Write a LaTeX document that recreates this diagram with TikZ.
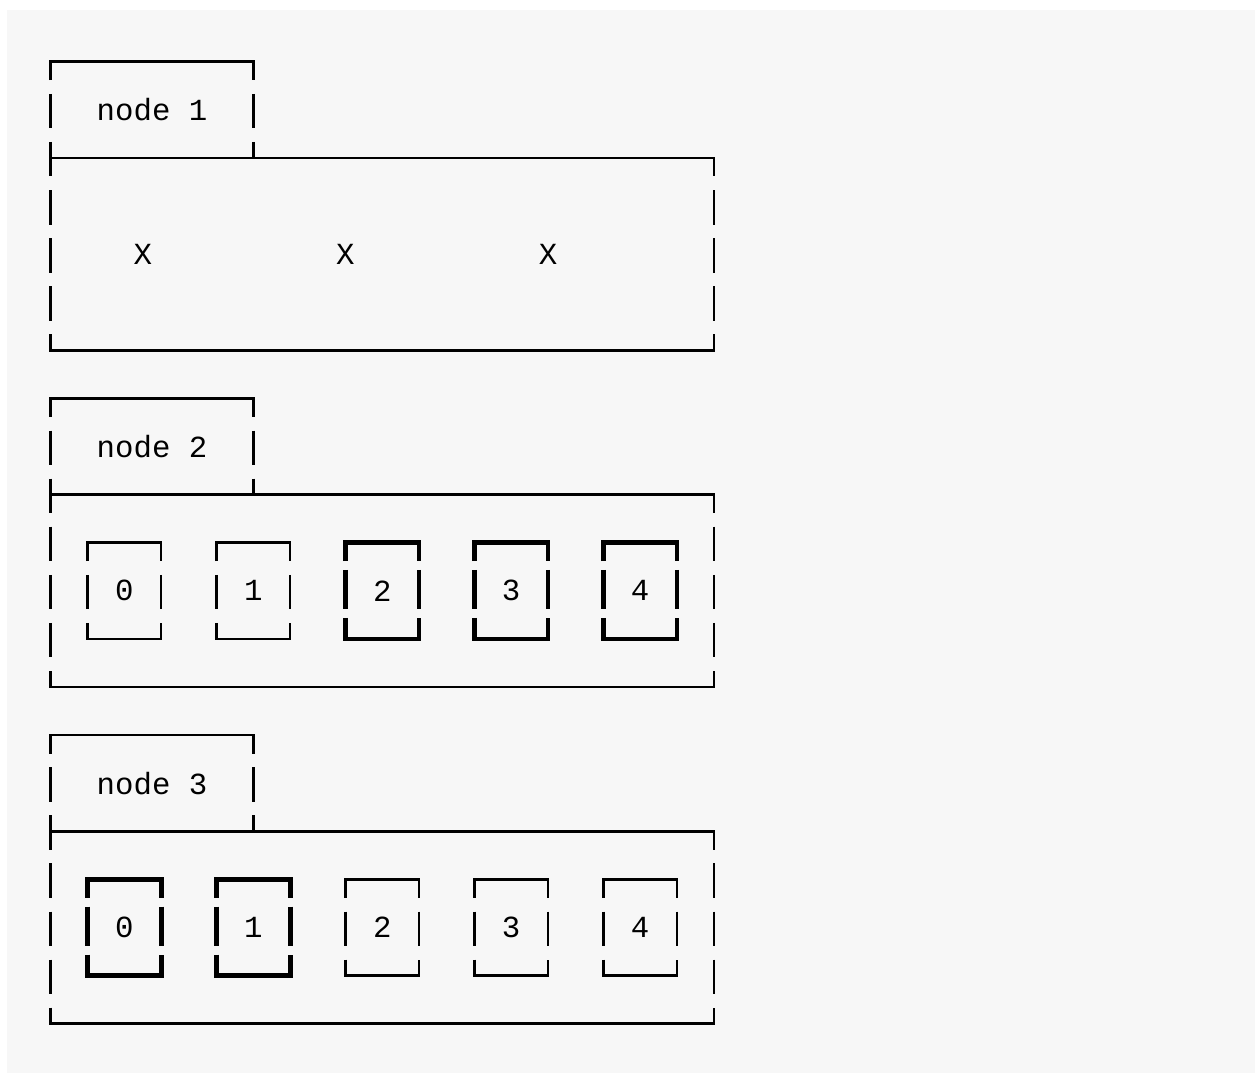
\documentclass[tikz,border=0pt]{standalone}
\usepackage{fontspec}
\setmonofont{Liberation Mono}
\definecolor{bgc}{HTML}{F7F7F7}
\def\lu{16}\def\ld{18.5}\def\hu{21}\def\hd{18.5}
% outer frame of one group: #1 base row
\newcommand\grpframe[1]{%
  \draw[light] ({cx(0)},{ry(#1)+\ld}) -- ({cx(0)},{ry(#1)}) -- ({cx(11)},{ry(#1)}) -- ({cx(11)},{ry(#1)+\ld});
  \draw[light] ({cx(0)},{ry(#1+1)-\lu}) -- ({cx(0)},{ry(#1+1)+\ld});
  \draw[light] ({cx(11)},{ry(#1+1)-\lu}) -- ({cx(11)},{ry(#1+1)+\ld});
  \draw[light] ({cx(0)},{ry(#1+2)-\lu}) -- ({cx(0)},{ry(#1+2)+\ld});
  \draw[light] ({cx(11)},{ry(#1+2)-\lu}) -- ({cx(11)},{ry(#1+2)});
  \draw[light] ({cx(0)},{ry(#1+2)}) -- ({cx(36)},{ry(#1+2)}) -- ({cx(36)},{ry(#1+2)+\ld});
  \foreach \rr in {3,4,5}{
    \draw[light] ({cx(0)},{ry(#1+\rr)-\lu}) -- ({cx(0)},{ry(#1+\rr)+\ld});
    \draw[light] ({cx(36)},{ry(#1+\rr)-\lu}) -- ({cx(36)},{ry(#1+\rr)+\ld});
  }
  \draw[light] ({cx(0)},{ry(#1+6)-\lu}) -- ({cx(0)},{ry(#1+6)}) -- ({cx(36)},{ry(#1+6)}) -- ({cx(36)},{ry(#1+6)-\lu});
}
% small box: #1 style, #2 up, #3 down, #4 top row, #5 left col
\newcommand\smallbox[5]{%
  \draw[#1] ({cx(#5)},{ry(#4)+#3}) -- ({cx(#5)},{ry(#4)}) -- ({cx(#5+4)},{ry(#4)}) -- ({cx(#5+4)},{ry(#4)+#3});
  \draw[#1] ({cx(#5)},{ry(#4+1)-#2}) -- ({cx(#5)},{ry(#4+1)+#3});
  \draw[#1] ({cx(#5+4)},{ry(#4+1)-#2}) -- ({cx(#5+4)},{ry(#4+1)+#3});
  \draw[#1] ({cx(#5)},{ry(#4+2)-#2}) -- ({cx(#5)},{ry(#4+2)}) -- ({cx(#5+4)},{ry(#4+2)}) -- ({cx(#5+4)},{ry(#4+2)-#2});
}
\begin{document}
\begin{tikzpicture}[x=1pt,y=-1pt,
  declare function={cx(\colx)=50.7+\colx*18.42; ry(\rowy)=61.7+\rowy*48.1;},
  light/.style={line width=2.5pt,black},
  heavy/.style={line width=4.7pt,black},
  txt/.style={font=\ttfamily\fontsize{30.7}{36}\selectfont, inner sep=0pt, text=black}]
\useasboundingbox (0,0) rectangle (1255,1073);
\fill[white] (0,0) rectangle (1255,1073);
\fill[bgc] (7,10) rectangle (1256,1074);

% group 1
\grpframe{0}
\node[txt] (label1) at ({cx(5.5)},{ry(1)}) {node 1};
\node[txt] (x1) at ({cx(5)},{ry(4)}) {X};
\node[txt] (x2) at ({cx(16)},{ry(4)}) {X};
\node[txt] (x3) at ({cx(27)},{ry(4)}) {X};

% group 2
\grpframe{7}
\node[txt] (label2) at ({cx(5.5)},{ry(8)}) {node 2};
\smallbox{light}{\lu}{\ld}{10}{2}
\smallbox{light}{\lu}{\ld}{10}{9}
\smallbox{heavy}{\hu}{\hd}{10}{16}
\smallbox{heavy}{\hu}{\hd}{10}{23}
\smallbox{heavy}{\hu}{\hd}{10}{30}
\node[txt] (b20) at ({cx(4)},{ry(11)}) {0};
\node[txt] (b21) at ({cx(11)},{ry(11)}) {1};
\node[txt] (b22) at ({cx(18)},{ry(11)}) {2};
\node[txt] (b23) at ({cx(25)},{ry(11)}) {3};
\node[txt] (b24) at ({cx(32)},{ry(11)}) {4};

% group 3
\grpframe{14}
\node[txt] (label3) at ({cx(5.5)},{ry(15)}) {node 3};
\smallbox{heavy}{\hu}{\hd}{17}{2}
\smallbox{heavy}{\hu}{\hd}{17}{9}
\smallbox{light}{\lu}{\ld}{17}{16}
\smallbox{light}{\lu}{\ld}{17}{23}
\smallbox{light}{\lu}{\ld}{17}{30}
\node[txt] (b30) at ({cx(4)},{ry(18)}) {0};
\node[txt] (b31) at ({cx(11)},{ry(18)}) {1};
\node[txt] (b32) at ({cx(18)},{ry(18)}) {2};
\node[txt] (b33) at ({cx(25)},{ry(18)}) {3};
\node[txt] (b34) at ({cx(32)},{ry(18)}) {4};
\end{tikzpicture}
\end{document}
